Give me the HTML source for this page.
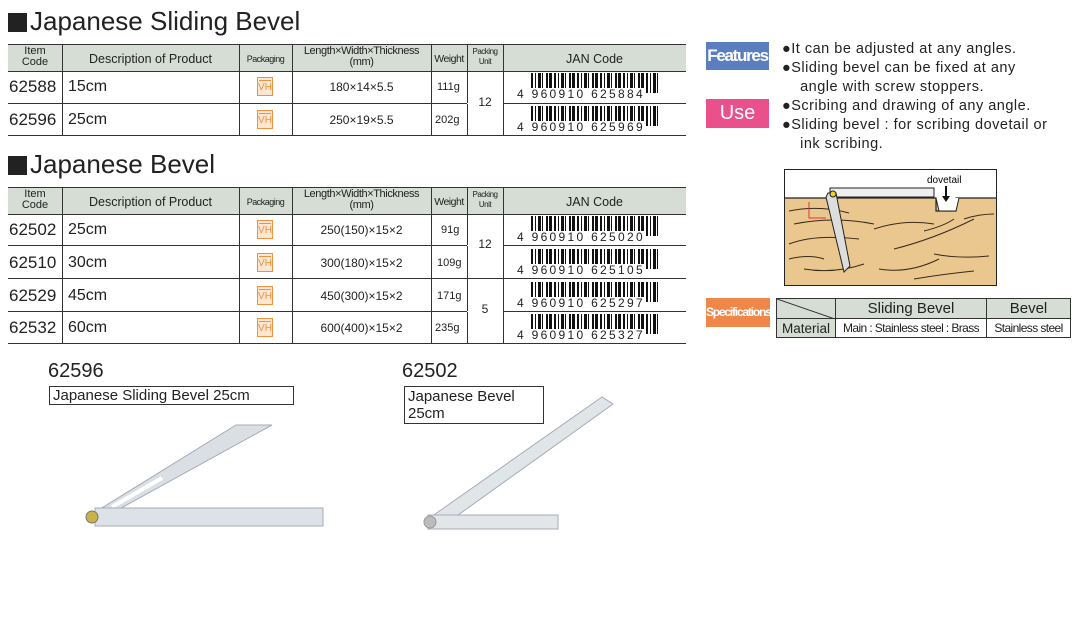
<!DOCTYPE html>
<html><head><meta charset="utf-8"><style>
body{margin:0;width:1091px;height:621px;background:#fff;position:relative;overflow:hidden;font-family:"Liberation Sans",sans-serif;color:#222}
.a{position:absolute}
.t{white-space:nowrap}
.h{background:#d5ddd5}
.bc{position:absolute;height:20px;width:128px;background:repeating-linear-gradient(90deg,#111 0 2px,#fff 2px 4px,#111 4px 5px,#fff 5px 7px,#111 7px 10px,#fff 10px 11px,#111 11px 12px,#fff 12px 15px,#111 15px 17px,#fff 17px 18px,#111 18px 21px,#fff 21px 23px)}
.dg{position:absolute;font-size:12px;letter-spacing:2.3px;background:#fff;line-height:12px}
.vh{position:absolute;width:16px;height:19px;border:1.5px solid #f0913d;box-sizing:border-box;color:#f0913d;font-size:10px;line-height:10px;text-align:center;padding-top:5px;background:#fde7d2}
.vh:before{content:"";position:absolute;left:1px;right:1px;top:2px;border-top:1px solid #f0913d}
table.s{position:absolute;left:776px;top:298px;width:295px;border-collapse:collapse}
table.s td{border:1px solid #333;padding:0;text-align:center;white-space:nowrap}
</style></head><body>

<div class="a" style="left:8px;top:13px;width:19px;height:19px;background:#222"></div>
<div class="a t" style="left:30px;top:6px;font-size:26px">Japanese Sliding Bevel</div>

<div class="a h" style="left:8px;top:44px;width:678px;height:26px;border-top:1.5px solid #333;border-bottom:1px solid #333"></div>
<div class="a" style="left:8px;top:103px;width:678px;border-top:1px solid #333"></div>
<div class="a" style="left:8px;top:135px;width:678px;border-top:1.5px solid #333"></div>
<div class="a" style="left:62px;top:44px;height:91px;border-left:1px solid #333"></div>
<div class="a" style="left:239px;top:44px;height:91px;border-left:1px solid #333"></div>
<div class="a" style="left:292px;top:44px;height:91px;border-left:1px solid #333"></div>
<div class="a" style="left:431px;top:44px;height:91px;border-left:1px solid #333"></div>
<div class="a" style="left:467px;top:44px;height:91px;border-left:1px solid #333"></div>
<div class="a" style="left:503px;top:44px;height:91px;border-left:1px solid #333"></div>
<div class="a" style="left:467px;top:103px;width:36px;border-top:1px solid #fff"></div>

<div class="a t" style="left:8px;top:46px;width:54px;text-align:center;font-size:11px;line-height:11px">Item<br>Code</div>
<div class="a t" style="left:62px;top:52px;width:177px;text-align:center;font-size:12.5px">Description of Product</div>
<div class="a t" style="left:239px;top:54px;width:53px;text-align:center;font-size:9px;letter-spacing:-.5px">Packaging</div>
<div class="a t" style="left:292px;top:46px;width:139px;text-align:center;font-size:11px;line-height:11px;letter-spacing:-.4px">Length×Width×Thickness<br>(mm)</div>
<div class="a t" style="left:431px;top:53px;width:36px;text-align:center;font-size:10.5px;letter-spacing:-.5px">Weight</div>
<div class="a t" style="left:467px;top:47px;width:36px;text-align:center;font-size:8px;line-height:10px;letter-spacing:-.5px">Packing<br>Unit</div>
<div class="a t" style="left:503px;top:52px;width:183px;text-align:center;font-size:12.5px">JAN Code</div>

<div class="a t" style="left:9px;top:77px;font-size:17px">62588</div>
<div class="a t" style="left:68px;top:78px;font-size:16px">15cm</div>
<div class="vh" style="left:257px;top:77px">VH</div>
<div class="a t" style="left:292px;top:80px;width:139px;text-align:center;font-size:12px">180×14×5.5</div>
<div class="a t" style="left:437px;top:81px;font-size:11px">111g</div>
<div class="bc" style="left:531px;top:73px"></div>
<div class="dg" style="left:517px;top:88px">4 960910 625884</div>

<div class="a t" style="left:9px;top:110px;font-size:17px">62596</div>
<div class="a t" style="left:68px;top:111px;font-size:16px">25cm</div>
<div class="vh" style="left:257px;top:110px">VH</div>
<div class="a t" style="left:292px;top:113px;width:139px;text-align:center;font-size:12px">250×19×5.5</div>
<div class="a t" style="left:435px;top:114px;font-size:11px">202g</div>
<div class="bc" style="left:531px;top:106px"></div>
<div class="dg" style="left:517px;top:121px">4 960910 625969</div>
<div class="a t" style="left:467px;top:95px;width:36px;text-align:center;font-size:12px">12</div>

<div class="a" style="left:8px;top:156px;width:19px;height:19px;background:#222"></div>
<div class="a t" style="left:30px;top:149px;font-size:26px">Japanese Bevel</div>

<div class="a h" style="left:8px;top:187px;width:678px;height:26px;border-top:1.5px solid #333;border-bottom:1px solid #333"></div>
<div class="a" style="left:8px;top:245px;width:678px;border-top:1px solid #333"></div>
<div class="a" style="left:8px;top:278px;width:678px;border-top:1px solid #333"></div>
<div class="a" style="left:8px;top:311px;width:678px;border-top:1px solid #333"></div>
<div class="a" style="left:8px;top:343px;width:678px;border-top:1.5px solid #333"></div>
<div class="a" style="left:62px;top:187px;height:156px;border-left:1px solid #333"></div>
<div class="a" style="left:239px;top:187px;height:156px;border-left:1px solid #333"></div>
<div class="a" style="left:292px;top:187px;height:156px;border-left:1px solid #333"></div>
<div class="a" style="left:431px;top:187px;height:156px;border-left:1px solid #333"></div>
<div class="a" style="left:467px;top:187px;height:156px;border-left:1px solid #333"></div>
<div class="a" style="left:503px;top:187px;height:156px;border-left:1px solid #333"></div>
<div class="a" style="left:467px;top:245px;width:36px;border-top:1px solid #fff"></div>
<div class="a" style="left:467px;top:311px;width:36px;border-top:1px solid #fff"></div>

<div class="a t" style="left:8px;top:189px;width:54px;text-align:center;font-size:11px;line-height:11px">Item<br>Code</div>
<div class="a t" style="left:62px;top:195px;width:177px;text-align:center;font-size:12.5px">Description of Product</div>
<div class="a t" style="left:239px;top:197px;width:53px;text-align:center;font-size:9px;letter-spacing:-.5px">Packaging</div>
<div class="a t" style="left:292px;top:189px;width:139px;text-align:center;font-size:11px;line-height:11px;letter-spacing:-.4px">Length×Width×Thickness<br>(mm)</div>
<div class="a t" style="left:431px;top:196px;width:36px;text-align:center;font-size:10.5px;letter-spacing:-.5px">Weight</div>
<div class="a t" style="left:467px;top:190px;width:36px;text-align:center;font-size:8px;line-height:10px;letter-spacing:-.5px">Packing<br>Unit</div>
<div class="a t" style="left:503px;top:195px;width:183px;text-align:center;font-size:12.5px">JAN Code</div>

<div class="a t" style="left:9px;top:220px;font-size:17px">62502</div>
<div class="a t" style="left:68px;top:221px;font-size:16px">25cm</div>
<div class="vh" style="left:257px;top:220px">VH</div>
<div class="a t" style="left:292px;top:223px;width:139px;text-align:center;font-size:12px">250(150)×15×2</div>
<div class="a t" style="left:441px;top:224px;font-size:11px">91g</div>
<div class="bc" style="left:531px;top:216px"></div>
<div class="dg" style="left:517px;top:231px">4 960910 625020</div>

<div class="a t" style="left:9px;top:253px;font-size:17px">62510</div>
<div class="a t" style="left:68px;top:254px;font-size:16px">30cm</div>
<div class="vh" style="left:257px;top:253px">VH</div>
<div class="a t" style="left:292px;top:256px;width:139px;text-align:center;font-size:12px">300(180)×15×2</div>
<div class="a t" style="left:437px;top:257px;font-size:11px">109g</div>
<div class="bc" style="left:531px;top:249px"></div>
<div class="dg" style="left:517px;top:264px">4 960910 625105</div>

<div class="a t" style="left:9px;top:286px;font-size:17px">62529</div>
<div class="a t" style="left:68px;top:287px;font-size:16px">45cm</div>
<div class="vh" style="left:257px;top:286px">VH</div>
<div class="a t" style="left:292px;top:289px;width:139px;text-align:center;font-size:12px">450(300)×15×2</div>
<div class="a t" style="left:437px;top:290px;font-size:11px">171g</div>
<div class="bc" style="left:531px;top:282px"></div>
<div class="dg" style="left:517px;top:297px">4 960910 625297</div>

<div class="a t" style="left:9px;top:318px;font-size:17px">62532</div>
<div class="a t" style="left:68px;top:319px;font-size:16px">60cm</div>
<div class="vh" style="left:257px;top:318px">VH</div>
<div class="a t" style="left:292px;top:321px;width:139px;text-align:center;font-size:12px">600(400)×15×2</div>
<div class="a t" style="left:435px;top:322px;font-size:11px">235g</div>
<div class="bc" style="left:531px;top:314px"></div>
<div class="dg" style="left:517px;top:329px">4 960910 625327</div>

<div class="a t" style="left:467px;top:237px;width:36px;text-align:center;font-size:12px">12</div>
<div class="a t" style="left:467px;top:302px;width:36px;text-align:center;font-size:12px">5</div>

<div class="a t" style="left:706px;top:42px;width:63px;height:28px;background:#5a7ec0;color:#fff;font-size:17px;line-height:28px;text-align:center;font-weight:bold;letter-spacing:-1.3px">Features</div>
<div class="a t" style="left:706px;top:99px;width:63px;height:29px;background:#e9508c;color:#fff;font-size:20px;line-height:29px;text-align:center">Use</div>
<div class="a t" style="left:782px;top:40px;font-size:14.5px;line-height:19px;letter-spacing:.5px">●It can be adjusted at any angles.<br>●Sliding bevel can be fixed at any<br>&nbsp;&nbsp;&nbsp;&nbsp;angle with screw stoppers.<br>●Scribing and drawing of any angle.<br>●Sliding bevel : for scribing dovetail or<br>&nbsp;&nbsp;&nbsp;&nbsp;ink scribing.</div>

<svg class="a" style="left:784px;top:169px" width="213" height="117" viewBox="0 0 213 117">
<rect x="0.5" y="0.5" width="212" height="116" fill="#fff" stroke="#222"/>
<rect x="1" y="29" width="211" height="87" fill="#eac78f"/>
<path d="M1 29H152v13h20v-13h40" fill="none" stroke="#222" stroke-width="1.2"/>
<path d="M152 29l3 13h17l3-13" fill="#fff" stroke="#222"/>
<g stroke="#3a2a1a" stroke-width="1" fill="none">
<path d="M5 42q30-6 60 2"/><path d="M10 55q40-8 80 0"/><path d="M5 75q25-10 70-5"/><path d="M20 100q30 5 60-5"/><path d="M90 60q30-10 60-5"/><path d="M110 80q40-10 80-30"/><path d="M95 100q30 5 60-10"/><path d="M150 85q25 5 55 2"/><path d="M180 50q15-5 30-5"/><path d="M5 90q20-5 35 0"/><path d="M130 110q30-5 60-8"/><path d="M140 62q20-5 30-12"/></g>
<path d="M25 33v16h17" fill="none" stroke="#d33" stroke-width="1"/>
<rect x="46" y="19" width="104" height="9" fill="#eee" stroke="#222"/>
<path d="M44 24l8 0l14 73l-6 6l-18-75z" fill="#ddd" stroke="#222"/>
<circle cx="49" cy="25" r="3" fill="#f2d31b" stroke="#222"/>
<text x="143" y="14" font-size="10" font-family="Liberation Sans">dovetail</text>
<path d="M162 17v12" stroke="#111" stroke-width="2"/><path d="M158 27l4 6l4-6z" fill="#111"/>
</svg>

<div class="a t" style="left:706px;top:298px;width:64px;height:29px;background:#f0874a;color:#fff;font-size:12px;line-height:29px;text-align:center;letter-spacing:-1.2px;font-weight:bold">Specifications</div>
<table class="s">
<tr style="height:20px"><td class="h" style="width:58px;position:relative"><svg class="a" style="left:0;top:0" width="58" height="20"><line x1="0" y1="0" x2="58" y2="20" stroke="#333"/></svg></td><td class="h" style="width:150px;font-size:15px">Sliding Bevel</td><td class="h" style="font-size:15px">Bevel</td></tr>
<tr style="height:19px"><td class="h" style="font-size:13.5px">Material</td><td style="font-size:12px;letter-spacing:-.6px">Main : Stainless steel : Brass</td><td style="font-size:12px;letter-spacing:-.6px">Stainless steel</td></tr>
</table>

<div class="a t" style="left:48px;top:360px;font-size:20px">62596</div>
<div class="a t" style="left:49px;top:386px;width:245px;height:19px;border:1px solid #333;box-sizing:border-box;font-size:15px;line-height:17px;padding-left:3px">Japanese Sliding Bevel 25cm</div>
<div class="a t" style="left:402px;top:360px;font-size:20px">62502</div>
<div class="a t" style="left:404px;top:386px;width:140px;height:38px;border:1px solid #333;box-sizing:border-box;font-size:15px;line-height:17px;padding:1px 3px">Japanese Bevel<br>25cm</div>

<svg class="a" style="left:0;top:0" width="1091" height="621">
<path d="M92 514L236 425H272L103 518Z" fill="#d9dfe3" stroke="#aab" stroke-width="1"/>
<path d="M112 507L162 478" stroke="#fff" stroke-width="4"/>
<rect x="95" y="508" width="228" height="18" fill="#dde2e6" stroke="#aab"/>
<circle cx="92" cy="517" r="6" fill="#c9b24a" stroke="#777"/>
<path d="M428 519L602 397L613 404L440 528Z" fill="#e0e5e8" stroke="#aab"/>
<rect x="428" y="515" width="130" height="14" fill="#e2e6e9" stroke="#aab"/>
<circle cx="430" cy="522" r="6" fill="#bbb" stroke="#999"/>
</svg>
</body></html>
